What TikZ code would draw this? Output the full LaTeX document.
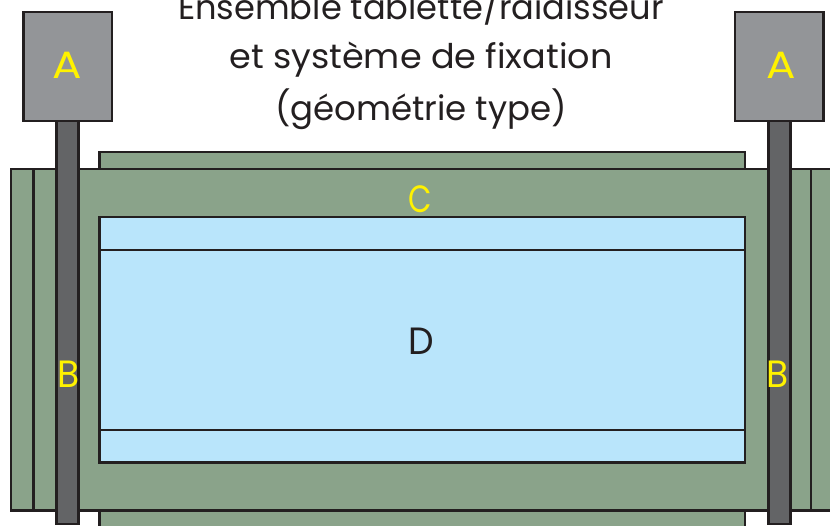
\documentclass[tikz,border=0pt]{standalone}
\usepackage{fontspec}
\setmainfont{Poppins}
\definecolor{plate}{HTML}{8AA38A}
\definecolor{boxgrey}{HTML}{939598}
\definecolor{postgrey}{HTML}{636466}
\definecolor{panel}{HTML}{B9E5FB}
\definecolor{ink}{HTML}{231F20}
\definecolor{mark}{HTML}{FFF200}
\tikzset{
  outline/.style={draw=ink,line width=2.7pt},
  thinrule/.style={draw=ink,line width=2.7pt},
  platepart/.style={outline,fill=plate},
  panelpart/.style={outline,fill=panel},
  postpart/.style={outline,fill=postgrey},
  headpart/.style={outline,fill=boxgrey},
  letter/.style={inner sep=0pt,font=\fontsize{38}{38}\selectfont,anchor=base},
  titleline/.style={inner sep=0pt,text=ink,font=\fontsize{34}{34}\selectfont,anchor=base}
}
\begin{document}
\begin{tikzpicture}[x=1pt,y=-1pt]
\useasboundingbox (0,0) rectangle (830,526);
\clip (0,0) rectangle (830,526);
\draw[platepart] (99.5,152) rectangle (745,175);
\draw[platepart] (99.5,505) rectangle (745,540);
\draw[platepart] (11,169) rectangle (845,510.5);
\draw[thinrule] (33.5,169) -- (33.5,510.5);
\draw[thinrule] (811,169) -- (811,510.5);
\draw[panelpart] (99.5,217) rectangle (745,462.5);
\draw[thinrule] (99.5,250) -- (745,250);
\draw[thinrule] (99.5,430) -- (745,430);
\draw[postpart] (56.5,115) rectangle (78.5,524);
\draw[postpart] (768.5,115) rectangle (790.5,524);
\draw[headpart] (23.5,12) rectangle (112,121);
\draw[headpart] (735,12) rectangle (823.5,121);
\node[titleline,xscale=.99] (t1) at (421,20) {Ensemble tablette/raidisseur};
\node[titleline,xscale=1.03] (t2) at (421,69) {et système de fixation};
\node[titleline] (t3) at (421,121) {(géométrie type)};
\node[letter,text=mark,xscale=1.15] (al) at (67,78.5) {A};
\node[letter,text=mark,xscale=1.15] (ar) at (781,78.5) {A};
\node[letter,text=mark,xscale=.95] (bl) at (68.5,388) {B};
\node[letter,text=mark,xscale=.95] (br) at (778,388) {B};
\node[letter,text=mark,xscale=.8] (c) at (420,213) {C};
\node[letter,text=ink,xscale=.95] (d) at (421,355) {D};
\end{tikzpicture}
\end{document}
